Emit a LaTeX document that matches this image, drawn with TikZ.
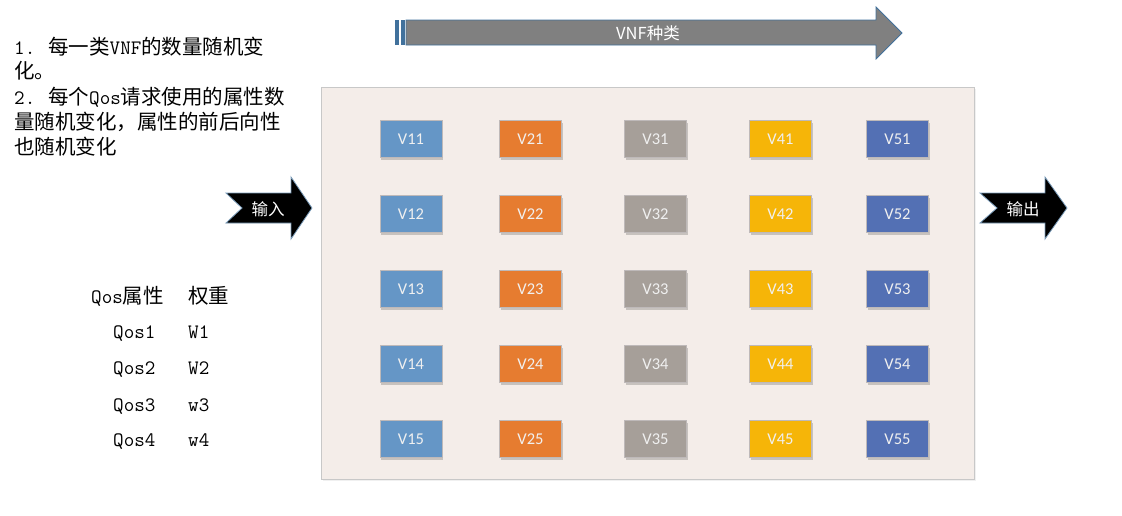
\documentclass[tikz,border=0pt]{standalone}
\usepackage{fontspec}
\setmainfont{Carlito}
\newfontfamily\cjk{Noto Sans CJK SC}
\usetikzlibrary{shadows}
\definecolor{cA}{RGB}{101,150,198}
\definecolor{cB}{RGB}{230,124,48}
\definecolor{cC}{RGB}{166,159,153}
\definecolor{cD}{RGB}{246,181,8}
\definecolor{cE}{RGB}{83,112,180}
\definecolor{panelfill}{RGB}{244,237,233}
\definecolor{panelline}{RGB}{200,200,200}
\definecolor{boxline}{RGB}{190,185,185}
\definecolor{arrline}{RGB}{65,113,156}
\definecolor{bigarr}{RGB}{128,128,128}
\tikzset{
  vbox/.style={minimum width=62pt, minimum height=37pt, inner sep=0pt, draw=boxline, line width=0.8pt,
    text=white!94!black, font=\fontsize{16.5}{20}\selectfont,
    drop shadow={shadow xshift=1pt, shadow yshift=-2pt, opacity=0.18, fill=black}},
  lefttext/.style={anchor=base west, inner sep=0pt, font=\fontsize{20.5}{24}\selectfont},
  arrtext/.style={text=white, inner sep=0pt, font=\cjk\fontsize{16.5}{20}\selectfont},
  blackarrow/.style={fill=black, draw=arrline!70!white, line width=0.8pt, line join=miter},
}
\begin{document}
\begin{tikzpicture}[x=1pt,y=-1pt]
\useasboundingbox (0,0) rectangle (1122,515);
% top arrow
\fill[arrline] (395,20) rectangle (399,45);
\fill[arrline] (400.5,20) rectangle (404.5,45);
\draw[fill=bigarr, draw=arrline, line width=0.8pt, line join=miter]
  (406,20) -- (876,20) -- (876,7) -- (902,33) -- (876,59) -- (876,45) -- (406,45) -- cycle;
\node[arrtext] (vnftype) at (648,33) {VNF种类};
% left text
\node[lefttext] (n1) at (14,54) {\ttfamily 1.};
\node[lefttext] (t1) at (48,54) {\cjk 每一类{\ttfamily VNF}的数量随机变};
\node[lefttext] (t2) at (14,78) {\cjk 化。};
\node[lefttext] (n2) at (14,104) {\ttfamily 2.};
\node[lefttext] (t3) at (48,104) {\cjk 每个{\ttfamily Qos}请求使用的属性数};
\node[lefttext] (t4) at (14,129) {\cjk 量随机变化，属性的前后向性};
\node[lefttext] (t5) at (14,154) {\cjk 也随机变化};
% table
\node[lefttext] (h1) at (91,303) {{\ttfamily Qos}{\cjk 属性}};
\node[lefttext] (h2) at (188,303) {\cjk 权重};
\node[lefttext] (q1) at (113,338) {\ttfamily Qos1};
\node[lefttext] (w1) at (188,338) {\ttfamily W1};
\node[lefttext] (q2) at (113,374) {\ttfamily Qos2};
\node[lefttext] (w2) at (188,374) {\ttfamily W2};
\node[lefttext] (q3) at (113,411) {\ttfamily Qos3};
\node[lefttext] (w3) at (188,411) {\ttfamily w3};
\node[lefttext] (q4) at (113,446) {\ttfamily Qos4};
\node[lefttext] (w4) at (188,446) {\ttfamily w4};
% input / output arrows
\draw[blackarrow] (226,193) -- (291,193) -- (291,177) -- (312,208) -- (291,239) -- (291,223) -- (226,223) -- (242,208) -- cycle;
\node[arrtext] (inp) at (268,209) {输入};
\draw[blackarrow] (980,193) -- (1045,193) -- (1045,177) -- (1067,208) -- (1045,239) -- (1045,223) -- (980,223) -- (997,208) -- cycle;
\node[arrtext] (outp) at (1023,209) {输出};
% panel
\node[draw=panelline, fill=panelfill, line width=0.9pt, minimum width=653pt, minimum height=392pt, inner sep=0pt,
  drop shadow={shadow xshift=1.5pt, shadow yshift=-2pt, opacity=0.06, fill=black}] (panel) at (647.5,283) {};
% boxes
\foreach \c/\x/\col in {1/411/cA, 2/530.5/cB, 3/655.5/cC, 4/780.5/cD, 5/897.5/cE} {
  \foreach \r/\y in {1/139, 2/214, 3/289, 4/364, 5/439} {
    \node[vbox, fill=\col] (v\c\r) at (\x,\y) {V\c\r};
  }
}
\end{tikzpicture}
\end{document}
